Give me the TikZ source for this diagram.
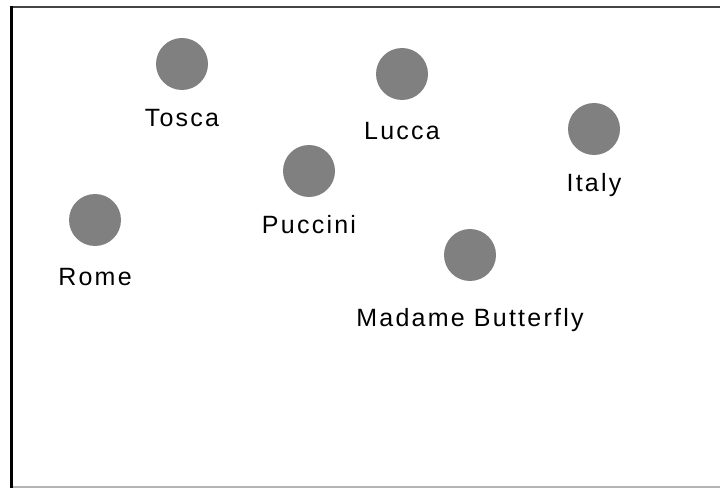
\documentclass[tikz,border=0pt]{standalone}
\usepackage{fontspec}
\setmainfont{Liberation Sans}[LetterSpace=9]
\usepackage{tikz}
\usetikzlibrary{positioning}
\definecolor{dotgrey}{HTML}{808080}
\definecolor{rulegrey}{HTML}{444444}
\definecolor{edgegrey}{HTML}{B4B4B4}

\begin{document}
\begin{tikzpicture}[x=1pt, y=-1pt,
        concept/.style={circle, fill=dotgrey, minimum size=52pt, inner sep=0pt},
        term/.style={inner sep=0pt, font=\fontsize{25}{29}\selectfont, text=black}]
        \useasboundingbox (0,0) rectangle (720,489);

        % Frame
        \draw[rulegrey, line width=2pt] (11,7) -- (720,7);
        \draw[edgegrey, line width=1.5pt] (11,487) -- (720,487);
        \draw[black, line width=3pt] (11,6) -- (11,488);

        % Concepts
        \node[concept] (tosca) at (182,64) {};
        \node[concept] (lucca) at (402,74) {};
        \node[concept] (italy) at (594,129) {};
        \node[concept] (puccini) at (309,171) {};
        \node[concept] (rome) at (95,220) {};
        \node[concept] (butterfly) at (470,255) {};

        % Labels
        \node[term, below=19pt of tosca] (tosca-label) {Tosca};
        \node[term, below=22pt of lucca] (lucca-label) {Lucca};
        \node[term, below=18pt of italy] (italy-label) {Italy};
        \node[term, below=18pt of puccini] (puccini-label) {Puccini};
        \node[term, below=22pt of rome] (rome-label) {Rome};
        \node[term, below=27pt of butterfly] (butterfly-label) {Madame Butterfly};
    \end{tikzpicture}
\end{document}
